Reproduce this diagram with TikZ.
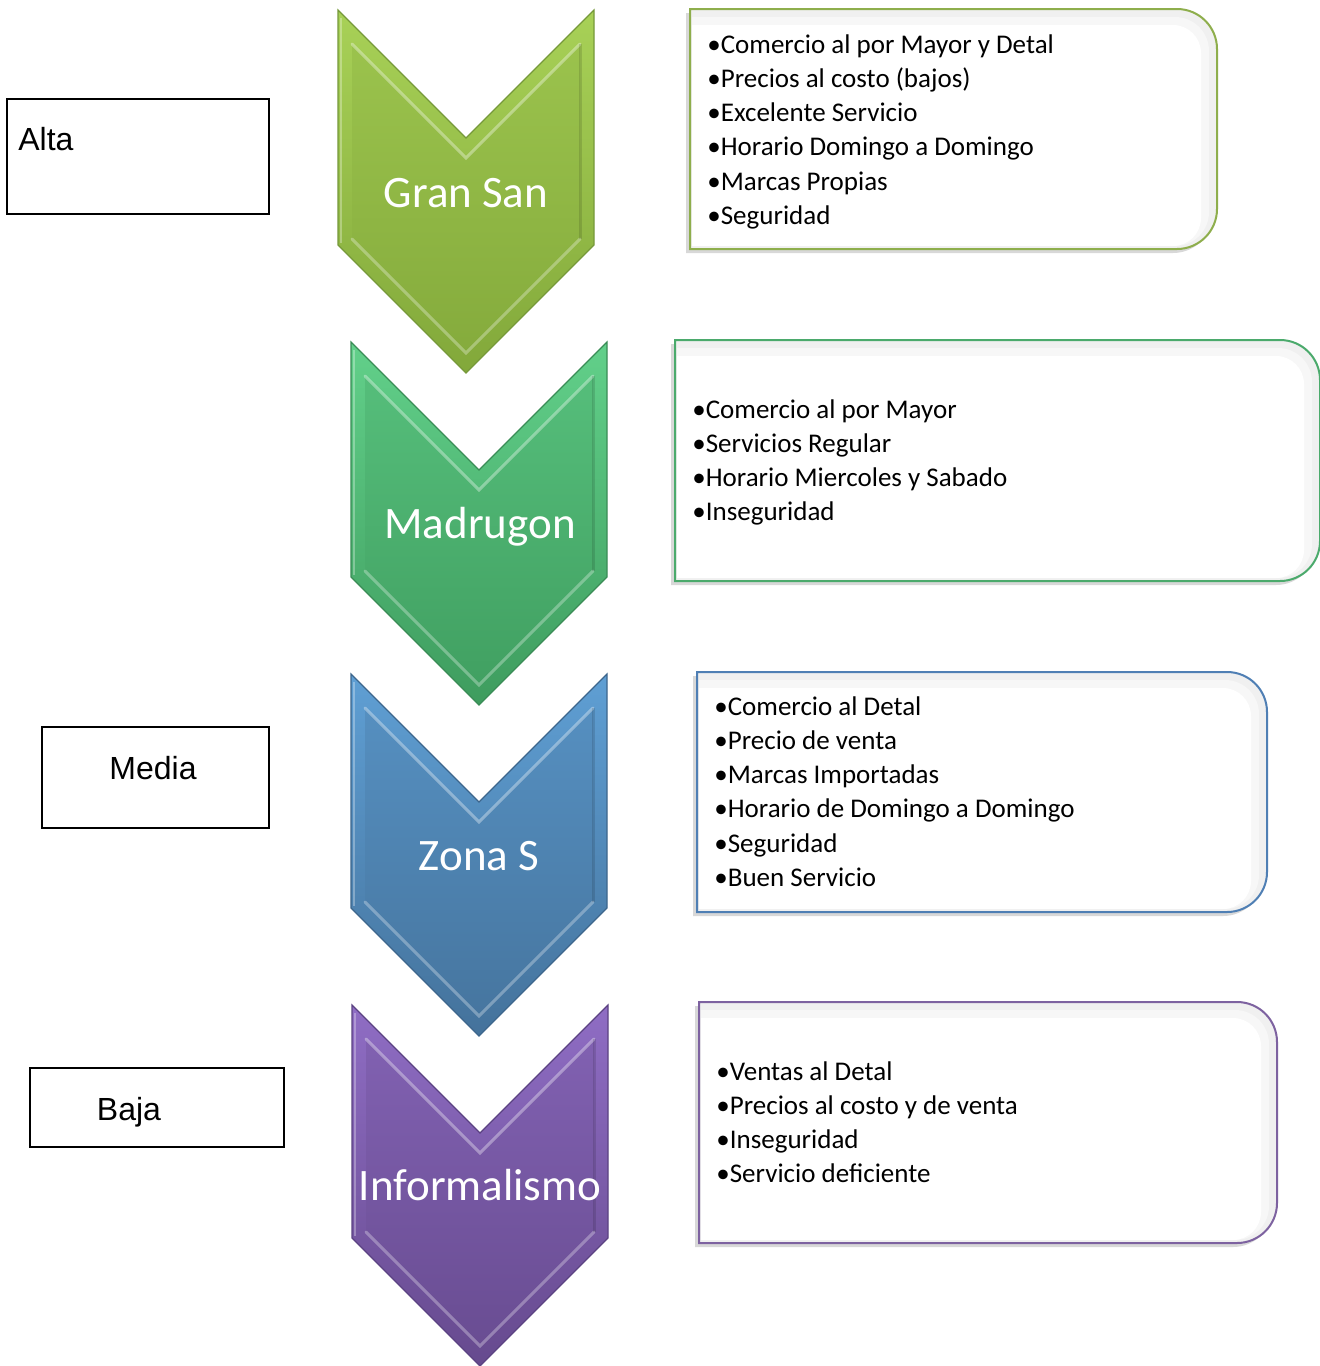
\documentclass[tikz,border=0pt]{standalone}
\usepackage{fontspec}
\setmainfont{Carlito}
\newfontfamily\arialf{Liberation Sans}
\usetikzlibrary{shadows}
\definecolor{gA}{HTML}{A8D157}
\definecolor{gB}{HTML}{82A83A}
\definecolor{gE}{HTML}{76993A}
\definecolor{mA}{HTML}{62D08A}
\definecolor{mB}{HTML}{3E9C5E}
\definecolor{mE}{HTML}{3A8C56}
\definecolor{zA}{HTML}{5F9FD4}
\definecolor{zB}{HTML}{44729B}
\definecolor{zE}{HTML}{3D668C}
\definecolor{pA}{HTML}{8F6DC4}
\definecolor{pB}{HTML}{664A8E}
\definecolor{pE}{HTML}{5B4282}
\definecolor{bxG}{HTML}{8EAE4C}
\definecolor{bxM}{HTML}{4BAA6C}
\definecolor{bxZ}{HTML}{4F7FB4}
\definecolor{bxP}{HTML}{7D62A0}
\newcommand\chevshape[6]{%
  \pgfmathsetmacro\chxl{#1}\pgfmathsetmacro\chxr{#1+256}\pgfmathsetmacro\chxc{#1+128}%
  \pgfmathsetmacro\chyt{#2}\pgfmathsetmacro\chyn{#2+128}\pgfmathsetmacro\chyb{#2+#3}\pgfmathsetmacro\chyp{#2+#3+128}%
  \path[draw=#6, line width=0.6pt, top color=#4, bottom color=#5]
    (\chxl,\chyt) -- (\chxc,\chyn) -- (\chxr,\chyt) -- (\chxr,\chyb) -- (\chxc,\chyp) -- (\chxl,\chyb) -- cycle;
  \path[top color=#4!65!#5, bottom color=#5!92!#4]
    (\chxl+14,\chyt+34) -- (\chxc,\chyn+20) -- (\chxr-14,\chyt+34) -- (\chxr-14,\chyb-6) -- (\chxc,\chyp-20) -- (\chxl+14,\chyb-6) -- cycle;
  \draw[white, opacity=0.35, line width=1.5pt, line cap=round]
    (\chxl+14,\chyt+34) -- (\chxc,\chyn+20) -- (\chxr-14,\chyt+34);
  \draw[white, opacity=0.3, line width=1.5pt, line cap=round]
    (\chxl+14,\chyb-6) -- (\chxc,\chyp-20) -- (\chxr-14,\chyb-6);
  \draw[white, opacity=0.3, line width=1pt]
    (\chxl+3,\chyt+8) -- (\chxl+3,\chyb-2);
  \draw[black, opacity=0.12, line width=1.5pt]
    (\chxr-14,\chyt+34) -- (\chxr-14,\chyb-6);
}
\newcommand\infobox[5]{%
  \path[fill=black!6, drop shadow={shadow xshift=-2pt, shadow yshift=-2pt, opacity=0.3}]
    (#1,#2) -- ({#3-40},#2) arc[start angle=-90,end angle=0,radius=40] -- (#3,{#4-40}) arc[start angle=0,end angle=90,radius=40] -- (#1,#4) -- cycle;
  \path[fill=black!3]
    ({#1+2},{#2+8}) -- ({#3-42},{#2+8}) arc[start angle=-90,end angle=0,radius=34] -- ({#3-8},{#4-37}) arc[start angle=0,end angle=90,radius=34] -- ({#1+2},{#4-3}) -- cycle;
  \path[fill=white]
    ({#1+2},{#2+16}) -- ({#3-44},{#2+16}) arc[start angle=-90,end angle=0,radius=28] -- ({#3-16},{#4-31}) arc[start angle=0,end angle=90,radius=28] -- ({#1+2},{#4-3}) -- cycle;
  \path[draw=#5, line width=1pt]
    (#1,#2) -- ({#3-40},#2) arc[start angle=-90,end angle=0,radius=40] -- (#3,{#4-40}) arc[start angle=0,end angle=90,radius=40] -- (#1,#4) -- cycle;
}
\begin{document}
\begin{tikzpicture}[x=0.5pt,y=-0.5pt,
  chevtext/.style={text=white, font=\fontsize{22.5}{27}\selectfont, inner sep=0pt, anchor=base},
  bul/.style={anchor=base west, inner sep=0pt, font=\fontsize{13.5}{17}\selectfont, text=black},
  levelbox/.style={draw=black, line width=0.8pt, fill=white, inner sep=0pt},
  leveltext/.style={font=\arialf\fontsize{16}{19}\selectfont, inner sep=0pt, anchor=base}]
\useasboundingbox (0,0) rectangle (1320,1366);
\fill[white] (0,0) rectangle (1320,1366);

% level boxes
\node[levelbox, minimum width=131pt, minimum height=57.5pt] (altabox) at (138,156.5) {};
\node[leveltext, anchor=base west] (alta) at (18,150) {Alta};
\node[levelbox, minimum width=113.5pt, minimum height=50.5pt] (mediabox) at (155.5,777.5) {};
\node[leveltext] (media) at (153,779) {Media};
\node[levelbox, minimum width=127pt, minimum height=39.5pt] (bajabox) at (157,1107.5) {};
\node[leveltext] (baja) at (129,1120) {Baja};

% chevrons
\chevshape{338}{10}{235}{gA}{gB}{gE}
\node[chevtext] (gransan) at (466,207) {Gran San};
\chevshape{351}{342}{235}{mA}{mB}{mE}
\node[chevtext] (madrugon) at (480,538) {Madrugon};
\chevshape{351}{674}{234}{zA}{zB}{zE}
\node[chevtext] (zonas) at (479,870) {Zona S};
\chevshape{352}{1005}{233}{pA}{pB}{pE}
\node[chevtext] (informalismo) at (480,1200) {Informalismo};

% info boxes
\infobox{690}{9}{1217}{249}{bxG}
\foreach \t [count=\i] in {Comercio al por Mayor y Detal, Precios al costo (bajos), Excelente Servicio, Horario Domingo a Domingo, Marcas Propias, Seguridad}
  \node[bul] (ga-\i) at (707,{53+(\i-1)*34.3}) {•\t};

\infobox{675}{340}{1320}{581}{bxM}
\foreach \t [count=\i] in {Comercio al por Mayor, Servicios Regular, Horario Miercoles y Sabado, Inseguridad}
  \node[bul] (mb-\i) at (692,{418+(\i-1)*34.3}) {•\t};

\infobox{697}{672}{1267}{912}{bxZ}
\foreach \t [count=\i] in {Comercio al Detal, Precio de venta, Marcas Importadas, Horario de Domingo a Domingo, Seguridad, Buen Servicio}
  \node[bul] (zc-\i) at (714,{715+(\i-1)*34.3}) {•\t};

\infobox{699}{1002}{1277}{1243}{bxP}
\foreach \t [count=\i] in {Ventas al Detal, Precios al costo y de venta, Inseguridad, Servicio deficiente}
  \node[bul] (pd-\i) at (716,{1080+(\i-1)*34.3}) {•\t};
\end{tikzpicture}
\end{document}
